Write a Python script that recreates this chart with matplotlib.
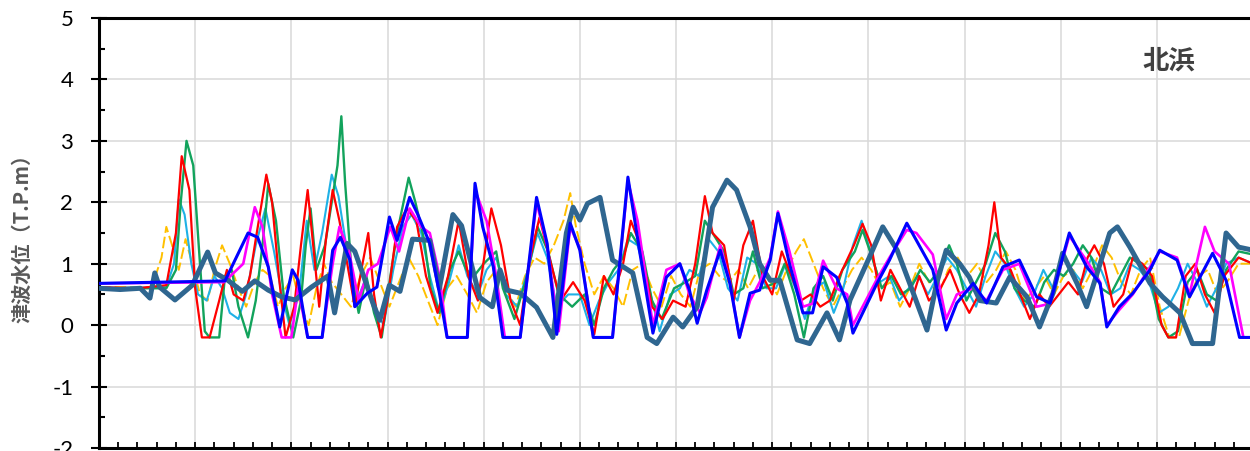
import numpy as np
import matplotlib.pyplot as plt
from matplotlib.ticker import MultipleLocator

plt.rcParams['font.family'] = ['Lato', 'DejaVu Sans']
plt.rcParams['axes.unicode_minus'] = False

# time axis (minutes) and water level (T.P.m) per case
t_teal = [0, 2.2, 4.3, 5.3, 5.8, 6.3, 7.9, 9.7, 11.3, 12.1, 13.4, 14.9, 16.2, 17.6, 19.0, 20.4, 22.1, 23.8,
          24.5, 25.8, 26.6, 27.4, 28.5, 29.2, 30.2, 31.3, 32.6, 34.4, 35.4, 36.8, 37.7, 39.6, 40.9, 41.7,
          42.4, 43.8, 45.5, 47.2, 48.6, 49.3, 50.0, 50.8, 52.1, 53.4, 55.5, 57.0, 58.0, 59.7, 60.7, 62.2,
          63.8, 65.3, 66.3, 67.7, 68.7, 69.8, 70.8, 72.6, 73.9, 75.7, 77.0, 78.1, 80.1, 81.5, 83.0, 84.3,
          86.1, 87.1, 88.1, 89.5, 90.5, 91.6, 93.3, 94.7, 96.5, 97.8, 99.2, 100.2, 101.7, 102.7, 105.1,
          105.9, 107.2, 109.3, 110.6, 112.4, 113.7, 115.8, 117.2, 118.5, 120]
h_teal = [0.6, 0.58, 0.6, 0.44, 0.85, 0.62, 0.41, 0.65, 1.19, 0.85, 0.73, 0.55, 0.72, 0.57, 0.46, 0.41, 0.62, 0.8,
          0.2, 1.33, 1.2, 0.85, 0.35, 0.08, 0.65, 0.55, 1.4, 1.38, 0.6, 1.8, 1.62, 0.45, 0.3, 0.9,
          0.57, 0.52, 0.29, -0.2, 1.5, 1.92, 1.71, 1.98, 2.08, 1.06, 0.85, -0.2, -0.3, 0.13, -0.03, 0.3,
          1.92, 2.36, 2.2, 1.6, 1.0, 0.73, 0.73, -0.24, -0.3, 0.2, -0.24, 0.41, 1.1, 1.6, 1.22, 0.68,
          -0.08, 0.68, 1.22, 1.0, 0.78, 0.4, 0.36, 0.78, 0.46, -0.03, 0.52, 1.17, 0.68, 0.3, 1.5,
          1.6, 1.27, 0.68, 0.46, 0.2, -0.3, -0.3, 1.5, 1.27, 1.22]

t_blue = [0, 13.1, 15.5, 16.5, 17.6, 18.8, 20.1, 20.7, 21.7, 23.2, 24.3, 25.1, 26.1, 26.6, 27.9, 28.9, 30.2,
          31.0, 32.3, 33.1, 34.4, 35.4, 36.2, 38.3, 39.1, 39.9, 41.0, 42.0, 43.8, 45.5, 46.6, 47.6, 49.0,
          50.0, 51.4, 53.4, 55.0, 56.2, 57.6, 59.0, 60.4, 61.4, 62.2, 63.2, 64.6, 65.6, 66.6, 67.7, 68.7,
          69.8, 70.6, 71.8, 73.2, 74.2, 75.3, 76.7, 77.8, 78.4, 80.9, 82.2, 84.0, 85.0, 86.7, 88.1, 89.2,
          90.9, 92.3, 94.0, 95.7, 97.5, 98.9, 100.9, 102.7, 104.1, 104.8, 106.1, 107.5, 109.3, 110.3,
          112.1, 113.4, 115.8, 117.2, 118.6, 120]
h_blue = [0.68, 0.72, 1.5, 1.43, 0.95, -0.03, 0.9, 0.73, -0.2, -0.2, 1.22, 1.43, 1.06, 0.3, 0.52, 0.62, 1.76,
          1.38, 2.08, 1.82, 1.33, 0.52, -0.2, -0.2, 2.31, 1.6, 0.95, -0.2, -0.2, 2.08, 1.33, -0.15, 1.66,
          1.22, -0.2, -0.2, 2.41, 1.22, -0.13, 0.78, 1.0, 0.57, 0.03, 0.57, 1.22, 0.68, -0.2, 0.52, 0.57,
          1.06, 1.82, 1.0, 0.2, 0.2, 0.95, 0.78, 0.36, -0.13, 0.68, 1.06, 1.66, 1.38, 0.9, -0.08, 0.36,
          0.68, 0.36, 0.95, 1.06, 0.46, 0.36, 1.5, 0.95, 0.68, -0.03, 0.3, 0.52, 0.9, 1.22,
          1.06, 0.46, 1.17, 0.73, -0.2, -0.2]

t_magenta = [0, 13.0, 15.0, 16.2, 17.0, 18.0, 19.0, 20.0, 20.7, 21.7, 23.2, 24.3, 25.0, 26.0, 27.0, 28.0, 29.0,
             30.3, 31.2, 32.3, 33.5, 34.4, 35.4, 36.2, 38.3, 39.1, 40.3, 41.3, 42.2, 43.8, 45.5, 46.6, 47.8,
             49.0, 50.0, 51.4, 53.4, 55.0, 56.0, 57.6, 59.0, 60.4, 61.4, 62.5, 63.2, 64.6, 65.6, 66.6, 67.7,
             68.7, 69.8, 70.6, 71.8, 73.2, 74.2, 75.3, 76.7, 77.8, 78.4, 80.9, 82.2, 84.0, 85.0, 86.7, 88.1,
             89.2, 90.9, 92.3, 94.0, 95.7, 97.5, 98.9, 100.9, 102.7, 104.1, 104.8, 106.1, 107.5, 109.3,
             110.3, 112.1, 113.4, 115.0, 116.0, 117.5, 119.0, 120]
h_magenta = [0.68, 0.7, 1.0, 1.92, 1.6, 0.5, -0.2, -0.2, 0.6, -0.2, -0.2, 1.0, 1.6, 1.2, 0.4, 0.9, 1.0,
             1.6, 1.2, 1.9, 1.6, 1.5, 0.8, -0.2, -0.2, 2.2, 1.7, 0.8, -0.2, -0.2, 2.0, 1.3, -0.1,
             1.6, 1.25, -0.2, -0.2, 2.35, 1.7, 0.0, 0.9, 1.0, 0.5, 0.2, 0.45, 1.3, 0.7, -0.2, 0.4,
             0.7, 1.1, 1.85, 1.2, 0.3, 0.35, 1.05, 0.6, 0.5, 0.0, 0.75, 1.1, 1.55, 1.5, 1.15, 0.1,
             0.5, 0.6, 0.4, 0.9, 1.0, 0.3, 0.35, 1.45, 1.05, 0.7, 0.0, 0.25, 0.5, 0.95,
             1.2, 1.1, 0.5, 1.6, 1.2, 1.0, -0.2, -0.2]

t_red = [0, 4, 7.0, 8.0, 8.6, 9.4, 10.0, 10.7, 11.5, 12.5, 13.3, 14.0, 15.0, 15.7, 16.3, 17.4, 18.0, 18.7,
         19.4, 20.3, 21.0, 21.7, 22.4, 22.9, 23.6, 24.3, 25.0, 25.7, 26.6, 27.4, 28.0, 28.6, 29.3, 30.0,
         31.0, 32.0, 33.0, 34.0, 35.2, 36.3, 37.4, 38.4, 39.4, 40.8, 41.8, 42.8, 43.8, 44.7, 45.8, 47.0,
         48.0, 49.3, 50.5, 51.5, 52.5, 53.5, 54.5, 55.3, 56.3, 57.5, 58.6, 59.7, 61.0, 62.0, 63.0, 63.8,
         65.0, 66.0, 67.0, 68.0, 69.0, 70.0, 71.0, 72.0, 73.0, 74.0, 75.0, 76.0, 77.0, 78.5, 79.4, 80.3,
         81.3, 82.3, 83.3, 84.3, 85.3, 86.3, 87.5, 88.5, 89.5, 90.5, 91.5, 92.5, 93.1, 93.8, 94.8, 95.8,
         96.8, 97.8, 98.8, 99.8, 100.8, 101.8, 102.8, 103.5, 104.5, 105.5, 106.5, 107.5, 108.5, 109.5,
         110.5, 111.2, 112.0, 113.0, 114.0, 115.0, 116.0, 117.0, 118.5, 120]
h_red = [0.62, 0.6, 0.65, 1.5, 2.75, 2.2, 0.6, -0.2, -0.2, 0.4, 0.9, 0.5, 0.4, 0.8, 1.4, 2.45, 2.0, 0.8,
         -0.2, 0.3, 1.3, 2.2, 1.1, 0.3, 1.4, 2.2, 1.7, 1.1, 0.3, 1.0, 1.5, 0.5, -0.2, 0.4,
         1.6, 1.9, 1.7, 0.8, 0.2, 0.8, 1.7, 0.8, 0.4, 1.9, 1.3, 0.4, 0.0, 1.0, 1.75, 1.0,
         0.4, 0.7, 0.4, -0.15, 0.8, 0.5, 1.0, 1.7, 1.3, 0.3, 0.1, 0.4, 0.3, 1.0, 2.1, 1.5,
         1.3, 0.4, 1.3, 1.7, 0.8, 0.5, 1.2, 0.8, 0.4, 0.5, 0.3, 0.4, 0.8, 1.3, 1.65, 1.3,
         0.4, 0.9, 0.6, 0.3, 0.8, 0.4, 0.6, 0.9, 0.5, 0.2, 0.5, 1.3, 2.0, 1.1, 0.9, 0.5,
         0.1, 0.5, 0.3, 0.5, 0.7, 0.5, 1.1, 1.3, 1.0, 0.3, 0.5, 1.1, 1.0, 0.8,
         0.0, -0.2, -0.2, 0.8, 1.0, 0.5, 0.2, 0.8, 1.1, 1.0]

t_green = [0, 7.0, 8.0, 8.5, 9.1, 9.8, 10.5, 11.0, 11.5, 12.5, 13.1, 13.8, 14.5, 15.5, 16.3, 17.0, 17.6,
           18.4, 19.2, 20.2, 21.0, 21.5, 22.0, 22.6, 23.5, 24.3, 24.8, 25.2, 25.6, 26.3, 27.0, 27.8, 28.6,
           29.4, 30.3, 31.0, 32.2, 32.9, 33.8, 34.5, 35.4, 36.5, 37.4, 38.2, 39.0, 40.0, 41.3, 42.0, 43.2,
           44.5, 45.6, 46.7, 47.8, 49.2, 50.5, 51.5, 52.5, 53.5, 54.5, 55.3, 56.5, 57.5, 58.5, 59.8, 61.0,
           62.0, 63.0, 63.8, 65.0, 66.0, 67.0, 68.0, 69.0, 70.5, 71.3, 72.3, 73.3, 74.3, 75.3, 76.3, 77.3,
           78.6, 79.4, 80.4, 81.4, 82.4, 83.4, 84.4, 85.4, 86.4, 87.4, 88.4, 89.2, 90.2, 91.2, 92.2, 93.2,
           94.2, 95.2, 96.2, 97.3, 98.3, 99.3, 100.3, 101.3, 102.3, 103.2, 104.2, 105.2, 106.2, 107.2,
           108.2, 109.2, 110.2, 111.2, 112.2, 113.2, 114.2, 115.2, 116.2, 117.2, 118.5, 120]
h_green = [0.6, 0.6, 0.9, 2.0, 3.0, 2.6, 1.0, -0.1, -0.2, -0.2, 0.8, 0.9, 0.3, -0.2, 0.4, 1.3, 2.3,
           1.7, 0.5, -0.2, 0.4, 1.3, 1.9, 0.9, 1.3, 2.1, 2.6, 3.4, 2.3, 0.8, 0.2, 0.8, 0.2,
           -0.2, 0.8, 1.5, 2.4, 2.0, 1.4, 0.6, 0.2, 0.9, 1.2, 0.9, 0.8, 1.0, 1.2, 0.6, 0.1,
           0.8, 1.6, 1.2, 0.5, 0.3, 0.5, 0.0, 0.6, 0.9, 1.1, 1.5, 1.2, 0.4, 0.1, 0.6, 0.7,
           0.8, 1.7, 1.5, 1.2, 0.5, 0.6, 1.2, 0.6, 0.7, 1.0, 0.5, -0.2, 0.6, 0.8, 0.4, 0.9,
           1.2, 1.55, 1.1, 0.6, 0.8, 0.5, 0.6, 0.9, 0.7, 0.9, 1.3, 1.0, 0.4, 0.7, 1.0, 1.5,
           1.2, 0.6, 0.4, 0.3, 0.7, 0.9, 0.8, 1.0, 1.3, 1.1, 0.6, 0.5, 0.8, 1.1,
           1.0, 0.9, 0.1, -0.2, -0.1, 0.7, 0.9, 0.5, 0.4, 0.9, 1.2, 1.15]

t_cyan = [0, 7.0, 7.8, 8.3, 8.9, 9.6, 10.3, 11.2, 12.0, 12.8, 13.6, 14.5, 15.3, 16.3, 17.3, 18.2, 19.0,
          19.8, 20.8, 21.6, 22.4, 23.2, 24.2, 24.9, 25.8, 26.8, 27.6, 28.6, 29.6, 30.6, 31.6, 32.5, 33.5,
          34.4, 35.4, 36.4, 37.4, 38.3, 39.4, 40.3, 41.3, 42.3, 43.5, 44.6, 45.6, 46.6, 47.6, 48.8, 50.0,
          51.0, 52.0, 53.0, 54.0, 55.0, 56.0, 57.2, 58.3, 59.4, 60.4, 61.4, 62.4, 63.4, 64.4, 65.4, 66.4,
          67.4, 68.4, 69.4, 70.4, 71.4, 72.4, 73.4, 74.4, 75.4, 76.4, 77.4, 78.4, 79.3, 80.2, 81.2, 82.2,
          83.2, 84.2, 85.2, 86.2, 87.2, 88.2, 89.2, 90.2, 91.2, 92.2, 93.2, 94.2, 95.2, 96.2, 97.2, 98.2,
          99.2, 100.2, 101.2, 102.2, 103.2, 104.2, 105.2, 106.2, 107.2, 108.2, 109.2, 110.2, 111.2, 112.2,
          113.2, 114.2, 115.2, 116.2, 117.2, 118.5, 120]
h_cyan = [0.6, 0.62, 1.0, 2.05, 1.8, 1.0, 0.5, 0.4, 0.8, 0.6, 0.2, 0.1, 0.5, 1.3, 1.9, 1.2, 0.5,
          0.0, 0.5, 1.7, 0.9, 1.5, 2.45, 2.1, 1.2, 0.4, 0.7, 0.3, 0.0, 0.9, 1.6, 1.8, 1.5,
          0.8, 0.2, 0.7, 1.3, 0.8, 0.5, 0.9, 1.1, 0.5, 0.3, 0.9, 1.5, 1.1, 0.3, 0.5, 0.5,
          0.0, 0.4, 0.7, 0.9, 1.4, 1.3, 0.6, -0.1, 0.5, 0.6, 0.9, 0.8, 1.4, 1.2, 0.6, 0.4,
          1.1, 1.0, 0.6, 0.6, 1.0, 0.6, 0.1, 0.6, 0.7, 0.2, 0.6, 1.3, 1.7, 1.2, 0.7, 0.8,
          0.4, 0.6, 0.8, 0.5, 0.8, 1.1, 0.9, 0.6, 0.3, 0.8, 1.2, 1.0, 0.6, 0.3, 0.5, 0.9,
          0.6, 1.1, 0.9, 0.7, 1.1, 0.9, 0.5, 0.6, 1.0, 0.9, 0.7, 0.2, 0.3, 0.6,
          1.0, 0.7, 0.3, 0.6, 1.0, 1.1, 1.0]

t_yellow = [0, 5.5, 6.5, 7.0, 7.6, 8.3, 9.0, 9.7, 10.5, 11.3, 12.0, 12.8, 13.6, 14.5, 15.3, 16.2, 17.0,
            17.8, 18.6, 19.4, 20.2, 21.0, 21.8, 22.6, 23.4, 24.2, 25.2, 26.2, 27.2, 28.2, 29.2, 30.2, 31.2,
            32.2, 33.2, 34.2, 35.2, 36.2, 37.2, 38.3, 39.3, 40.3, 41.3, 42.3, 43.3, 44.3, 45.3, 46.3, 47.3,
            48.3, 49.0, 49.6, 50.5, 51.5, 52.5, 53.5, 54.5, 55.5, 56.5, 57.5, 58.5, 59.5, 60.5, 61.5, 62.5,
            63.5, 64.5, 65.5, 66.5, 67.5, 68.5, 69.5, 70.5, 71.5, 72.5, 73.3, 74.3, 75.3, 76.3, 77.3, 78.3,
            79.3, 80.3, 81.3, 82.3, 83.3, 84.3, 85.3, 86.3, 87.3, 88.3, 89.3, 90.3, 91.3, 92.3, 93.3, 94.3,
            95.3, 96.3, 97.3, 98.3, 99.3, 100.3, 101.3, 102.3, 103.3, 104.3, 105.3, 106.3, 107.3, 108.3,
            109.3, 110.3, 111.3, 112.3, 113.3, 114.3, 115.3, 116.3, 117.3, 118.5, 120]
h_yellow = [0.62, 0.62, 1.1, 1.6, 1.3, 0.9, 1.4, 1.0, 0.5, 0.4, 0.9, 1.3, 1.0, 0.6, 0.3, 0.7, 0.9,
            0.8, 0.3, 0.6, 0.8, 0.3, 0.0, 0.6, 1.0, 0.7, 0.5, 0.3, 0.8, 1.1, 0.7, 0.3, 0.7,
            1.1, 0.8, 0.4, 0.0, 0.6, 0.8, 0.5, 0.2, 0.7, 0.9, 0.6, 0.3, 0.8, 1.1, 1.0, 1.3,
            1.7, 2.15, 1.6, 1.0, 0.5, 0.8, 0.6, 0.3, 0.9, 1.0, 0.6, 0.3, 0.8, 0.5, 0.3, 0.9,
            1.0, 0.8, 0.7, 0.9, 0.6, 0.9, 0.8, 0.5, 0.9, 1.2, 1.4, 1.0, 0.6, 0.3, 0.6, 0.9,
            1.1, 0.9, 0.6, 0.7, 0.3, 0.6, 1.0, 0.7, 0.5, 0.9, 1.1, 0.8, 1.0, 0.7, 0.9, 1.2,
            0.9, 0.4, 0.6, 0.8, 0.5, 0.8, 0.9, 0.6, 0.9, 1.3, 1.1, 0.7, 0.5, 0.9,
            1.1, 0.3, -0.2, -0.2, 0.4, 0.8, 0.9, 0.5, 0.7, 1.0, 1.0]

fig = plt.figure(figsize=(12.5, 4.51), dpi=100)
ax = fig.add_axes([99 / 1250, 3 / 451, 1154 / 1250, 430 / 451])

ax.plot(t_yellow, h_yellow, color='#ffc000', lw=1.4, ls=(0, (6, 2)), zorder=2)
ax.plot(t_cyan, h_cyan, color='#1fb1e6', lw=1.5, zorder=2)
ax.plot(t_green, h_green, color='#12a35c', lw=1.7, zorder=2)
ax.plot(t_red, h_red, color='#ff0000', lw=1.6, zorder=2)
ax.plot(t_magenta, h_magenta, color='#ff00ff', lw=1.9, solid_joinstyle='round', zorder=3)
ax.plot(t_teal, h_teal, color='#2f6690', lw=3.6, solid_joinstyle='round', zorder=4)
ax.plot(t_blue, h_blue, color='#0000ff', lw=2.2, solid_joinstyle='round', zorder=5)

ax.set_xlim(0, 120)
ax.set_ylim(-2, 5)
ax.xaxis.set_major_locator(MultipleLocator(10))
ax.xaxis.set_minor_locator(MultipleLocator(2))
ax.yaxis.set_major_locator(MultipleLocator(1))
ax.yaxis.set_minor_locator(MultipleLocator(0.5))
ax.grid(True, which='major', color='#d9d9d9', lw=1.1, zorder=0)
ax.set_axisbelow(True)

ax.tick_params(axis='y', which='major', direction='inout', length=11, width=1.5,
               labelsize=16, pad=13, colors='black')
ax.tick_params(axis='y', which='minor', direction='in', length=4.5, width=1.5)
ax.tick_params(axis='x', which='both', direction='in', length=4, width=1.3, labelbottom=False)
ax.tick_params(top=False, right=False, which='both')
for s in ax.spines.values():
    s.set_linewidth(2.2)
    s.set_color('black')

ax.set_ylabel('津波水位（T.P.m）', fontsize=14.5, fontweight='bold', color='#595959',
              family=['Noto Sans CJK JP', 'DejaVu Sans'], labelpad=14)
ax.text(111.3, 4.3, '北浜', fontsize=19, fontweight='bold', color='#404040',
        ha='center', va='center', family=['Noto Sans CJK JP', 'DejaVu Sans'])

fig.savefig('out.png', dpi=100)
